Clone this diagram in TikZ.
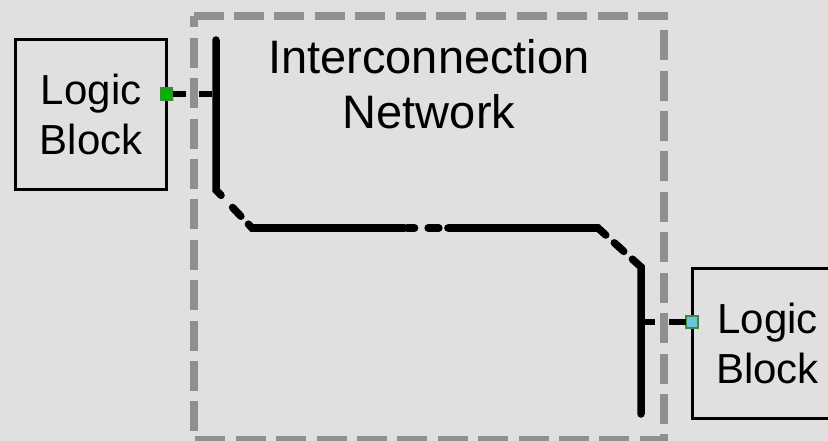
\documentclass[tikz,border=0pt]{standalone}
\usepackage{fontspec}
\setmainfont{Liberation Sans}
\usetikzlibrary{calc,shadows}
\definecolor{bgcol}{HTML}{E0E0E0}
\definecolor{bordergray}{HTML}{8F8F8F}
\definecolor{portgreen}{HTML}{00B400}
\definecolor{portedge}{HTML}{3C8A3C}
\definecolor{portblue}{HTML}{6CC5DA}
\begin{document}
\begin{tikzpicture}[x=1pt,y=-1pt,
  logicblock/.style={draw=black, line width=3pt, minimum width=151pt, minimum height=150pt,
    inner sep=0pt, outer sep=0pt, align=center, font=\fontsize{42}{50}\selectfont},
  netframe/.style={minimum width=470.5pt, minimum height=424pt, inner sep=0pt, outer sep=0pt},
  netborder/.style={draw=bordergray, line width=8pt, dash pattern=on 30pt off 10.4pt},
  titletext/.style={align=center, font=\fontsize{47}{55}\selectfont, inner sep=0pt},
  port/.style={line width=1.5pt, minimum size=12pt, inner sep=0pt, outer sep=0pt,
    drop shadow={shadow xshift=1pt, shadow yshift=-1pt, opacity=0.35}},
  wire/.style={line width=7.5pt, line cap=round, line join=miter},
  stub/.style={line width=6pt}
]
% canvas
\fill[bgcol] (0,0) rectangle (828,441);
\useasboundingbox (0,0) rectangle (828,441);
\clip (0,0) rectangle (828,441);

% blocks and network frame
\node[logicblock] (lb1) at (91.2,114.2) {Logic\\Block};
\node[logicblock] (lb2) at (767.5,343) {Logic\\Block};
\node[netframe] (net) at (428.75,228) {};
\node[titletext] (nettitle) at (429,84) {Interconnection\\Network};

% routing track through the network
\coordinate (a1) at (216,40);
\coordinate (a2) at (216,190);
\coordinate (a3) at (252,228);
\coordinate (a4) at (598,228);
\coordinate (a5) at (641,267);
\coordinate (a6) at (641,414);

% ports on the logic blocks
\node[port, fill=portgreen, draw=portedge] (p1) at (166.7,94) {};
\node[port, fill=portblue, draw=portedge] (p2) at (692,322) {};

% port connections into the track
\draw[stub, dash pattern=on 13pt off 13pt] (p1.east) -- (p1.east -| a1);
\draw[stub, dash pattern=on 14pt off 14pt on 20pt off 0pt] (p2.west -| a5) -- (p2.west);

% dashed network boundary
\draw[netborder] (net.north west) -- (net.north east) -- (net.south east) -- (net.south west) -- cycle;

% track segments
\draw[wire] (a1) -- (a2) -- ($(a2)!0.14!(a3)$);
\draw[wire] ($(a2)!0.46!(a3)$) -- ($(a2)!0.69!(a3)$);
\draw[wire] ($(a2)!0.9!(a3)$) -- (a3) -- ($(a3)!0.442!(a4)$);
\draw[wire] ($(a3)!0.449!(a4)$) -- ($(a3)!0.47!(a4)$);
\draw[wire] ($(a3)!0.509!(a4)$) -- ($(a3)!0.54!(a4)$);
\draw[wire] ($(a3)!0.566!(a4)$) -- (a4) -- ($(a4)!0.18!(a5)$);
\draw[wire] ($(a4)!0.38!(a5)$) -- ($(a4)!0.6!(a5)$);
\draw[wire] ($(a4)!0.8!(a5)$) -- (a5) -- (a6);
\end{tikzpicture}
\end{document}
